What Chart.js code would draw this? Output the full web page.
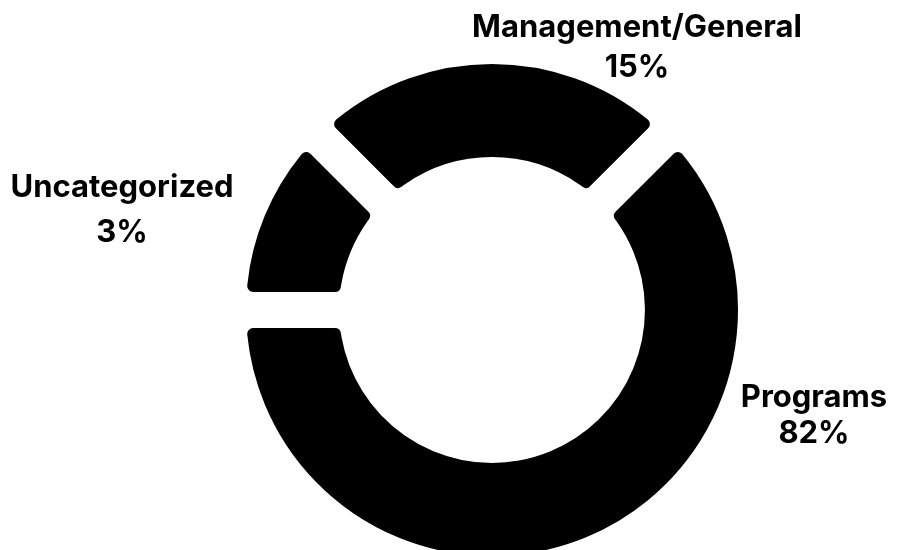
<!DOCTYPE html>
<html>
<head>
<meta charset="utf-8">
<script src="https://cdn.jsdelivr.net/npm/chart.js@4.4.1/dist/chart.umd.min.js"></script>
<style>
  html, body { margin: 0; padding: 0; background: #fff; }
</style>
</head>
<body>
<canvas id="budget-donut" width="907" height="550"></canvas>
<script>
// categories clockwise, starting at the upper-left gap
const categories = ['Management/General', 'Programs', 'Uncategorized'];
// percentages as printed next to each ring piece
const shares = [15, 82, 3];
// ring pieces as they are drawn (the graphic is not to scale with the printed shares)
const arcSizes = [25, 62.5, 12.5];

// where each label sits, relative to the ring centre
const labelSpots = [
    { dx: 145, dy: -273, gap: 40 },
    { dx: 322, dy: 97, gap: 36 },
    { dx: -370, dy: -113, gap: 45 }
];

const ringLabels = {
    id: 'ringLabels',
    afterDraw(chart) {
        const ctx = chart.ctx;
        const arc = chart.getDatasetMeta(0).data[0];
        ctx.save();
        ctx.fillStyle = '#000';
        ctx.font = 'bold 31px Inter, "DejaVu Sans", sans-serif';
        ctx.textAlign = 'center';
        ctx.textBaseline = 'alphabetic';
        categories.forEach((name, i) => {
            const s = labelSpots[i];
            ctx.fillText(name, arc.x + s.dx, arc.y + s.dy);
            ctx.fillText(shares[i] + '%', arc.x + s.dx, arc.y + s.dy + s.gap);
        });
        ctx.restore();
    }
};

new Chart(document.getElementById('budget-donut'), {
    type: 'doughnut',
    data: {
        labels: categories,
        datasets: [{
            data: arcSizes,
            backgroundColor: '#000000',
            borderColor: '#ffffff',
            borderWidth: 36,       // white stroke makes the straight gaps
            borderAlign: 'center',
            borderRadius: 24,
            clip: false
        }]
    },
    options: {
        responsive: false,
        animation: false,
        events: [],
        rotation: -45,
        radius: 264,
        cutout: '51.1%',
        layout: {
            padding: { left: 100, right: 23, top: 80, bottom: 10 }
        },
        plugins: {
            legend: { display: false },
            tooltip: { enabled: false }
        }
    },
    plugins: [ringLabels]
});
</script>
</body>
</html>
